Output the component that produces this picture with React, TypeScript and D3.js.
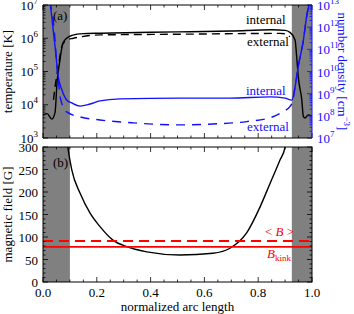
import React from 'react';
import * as d3 from 'd3';

// arc length (normalized) vs value
const tempInternal: [number, number][] = [
  [0, 4.9e3], [0.015, 5.4e3], [0.033, 3.7e3], [0.045, 6e3], [0.052, 4.5e4],
  [0.063, 2.2e5], [0.074, 7.2e5], [0.089, 1.02e6], [0.108, 1.22e6], [0.149, 1.38e6],
  [0.212, 1.42e6], [0.5, 1.55e6], [0.7, 1.65e6], [0.85, 1.8e6], [0.9, 1.72e6],
  [0.918, 1.5e6], [0.937, 8.9e5], [0.943, 2.8e5], [0.949, 6.9e4], [0.962, 1.4e4],
  [0.968, 4.4e3], [0.974, 4e3], [0.986, 4.9e3], [0.999, 4.6e3],
];
const tempExternal: [number, number][] = [
  [0.039, 1.4e4], [0.045, 3.5e4], [0.057, 1.4e5], [0.07, 5.6e5], [0.088, 8.9e5],
  [0.113, 1.0e6], [0.212, 1.26e6], [0.5, 1.32e6], [0.88, 1.4e6], [0.905, 1.35e6],
  [0.918, 1.1e6],
];
const densInternal: [number, number][] = [
  [0.026, 1.5e13], [0.045, 1.3e11], [0.057, 5.6e9], [0.07, 1.5e9], [0.088, 5.2e8],
  [0.107, 3.8e8], [0.138, 2.75e8], [0.175, 3.4e8], [0.212, 4.7e8], [0.286, 5.8e8],
  [0.509, 6.3e8], [0.695, 6.3e8], [0.844, 7.2e8], [0.9, 6.3e8], [0.925, 5.1e8],
  [0.937, 2.0e9], [0.949, 1.7e10], [0.968, 2.6e11], [0.98, 3e12], [0.992, 1.5e13],
];
const densExternal: [number, number][] = [
  [0.024, 1.5e13], [0.045, 2.5e11], [0.05, 3e10], [0.058, 3e9], [0.065, 6e8],
  [0.088, 1.5e8], [0.138, 8.9e7], [0.212, 6.5e7], [0.335, 4.8e7], [0.509, 3.9e7],
  [0.632, 4.3e7], [0.757, 5.5e7], [0.855, 9.1e7], [0.892, 1.55e8], [0.918, 2.6e8],
  [0.929, 5.1e8], [0.937, 2.0e9], [0.949, 1.7e10], [0.968, 2.6e11], [0.98, 3e12],
  [0.992, 1.5e13],
];
const fieldB: [number, number][] = [
  [0.088, 320], [0.094, 293], [0.107, 249], [0.138, 197], [0.175, 153], [0.212, 123],
  [0.26, 93], [0.311, 78.5], [0.386, 67], [0.509, 60], [0.632, 64], [0.695, 75],
  [0.757, 109], [0.807, 167], [0.844, 219], [0.881, 271], [0.9, 300], [0.905, 320],
];
const meanB = 91;
const kinkB = 78;
const chromoLeft = [0, 0.1];
const chromoRight = [0.925, 1];

const xTicks = [0, 0.2, 0.4, 0.6, 0.8, 1.0];
const tempDecades = [3, 4, 5, 6, 7];
const densDecades = [7, 8, 9, 10, 11, 12, 13];
const bTicks = [0, 50, 100, 150, 200, 250, 300];

const BLUE = '#1010ff';
const RED = '#ff0000';
const FONT = "'Liberation Serif', 'Times New Roman', serif";

const L = 43, R = 312, aTop = 5, aBot = 138, bTop = 147, bBot = 282;

export default function App() {
  const x = d3.scaleLinear().domain([0, 1]).range([L, R]);
  const yT = d3.scaleLog().domain([1e3, 1e7]).range([aBot, aTop]);
  const yN = d3.scaleLog().domain([1e7, 1e13]).range([aBot, aTop]);
  const yB = d3.scaleLinear().domain([0, 300]).range([bBot, bTop]);

  const lineT = d3.line<[number, number]>().x(d => x(d[0])).y(d => yT(d[1])).curve(d3.curveMonotoneX);
  const lineN = d3.line<[number, number]>().x(d => x(d[0])).y(d => yN(d[1])).curve(d3.curveMonotoneX);
  const lineB = d3.line<[number, number]>().x(d => x(d[0])).y(d => yB(d[1])).curve(d3.curveMonotoneX);

  const minorX = d3.range(0, 1.0001, 0.05);
  const logMinor = (decs: number[]) => {
    const out: number[] = [];
    for (let i = 0; i < decs.length - 1; i++)
      for (let k = 2; k <= 9; k++) out.push(k * Math.pow(10, decs[i]));
    return out;
  };

  const ticks: JSX.Element[] = [];
  let key = 0;
  const tk = (x1: number, y1: number, x2: number, y2: number, c = '#000') =>
    ticks.push(<line key={key++} x1={x1} y1={y1} x2={x2} y2={y2} stroke={c} strokeWidth={0.8} />);

  // x ticks on both panels, top and bottom
  for (const [t, b] of [[aTop, aBot], [bTop, bBot]]) {
    minorX.forEach(v => {
      const major = xTicks.some(m => Math.abs(m - v) < 1e-6);
      const len = major ? 5 : 2.5;
      tk(x(v), b, x(v), b - len);
      tk(x(v), t, x(v), t + len);
    });
  }
  // temperature axis
  tempDecades.forEach(d => tk(L, yT(Math.pow(10, d)), L + 5, yT(Math.pow(10, d))));
  logMinor(tempDecades).forEach(v => tk(L, yT(v), L + 2.5, yT(v)));
  // density axis
  densDecades.forEach(d => tk(R, yN(Math.pow(10, d)), R - 5, yN(Math.pow(10, d)), BLUE));
  logMinor(densDecades).forEach(v => tk(R, yN(v), R - 2.5, yN(v), BLUE));
  // field axis
  d3.range(0, 301, 10).forEach(v => {
    const len = v % 50 === 0 ? 5 : 2.5;
    tk(L, yB(v), L + len, yB(v));
    tk(R, yB(v), R - len, yB(v));
  });

  const gray = (top: number, bot: number) => (
    <g fill="#808080">
      <rect x={x(chromoLeft[0])} y={top} width={x(chromoLeft[1]) - x(chromoLeft[0])} height={bot - top} />
      <rect x={x(chromoRight[0])} y={top} width={x(chromoRight[1]) - x(chromoRight[0])} height={bot - top} />
    </g>
  );

  return (
    <svg width={354} height={314} style={{ position: 'absolute', left: 0, top: 0 }} fontFamily={FONT}>
      <rect width={354} height={314} fill="#fff" />
      <defs>
        <clipPath id="clipA"><rect x={L} y={aTop} width={R - L} height={aBot - aTop} /></clipPath>
        <clipPath id="clipB"><rect x={L} y={bTop} width={R - L} height={bBot - bTop} /></clipPath>
      </defs>

      {gray(aTop, aBot)}
      {gray(bTop, bBot)}

      <g clipPath="url(#clipA)" fill="none" strokeWidth={1.4}>
        <path d={lineT(tempInternal) || ''} stroke="#000" />
        <path d={lineT(tempExternal) || ''} stroke="#000" strokeDasharray="8,5" />
        <path d={lineN(densInternal) || ''} stroke={BLUE} />
        <path d={lineN(densExternal) || ''} stroke={BLUE} strokeDasharray="9,7" />
      </g>

      <g clipPath="url(#clipB)" fill="none">
        <path d={lineB(fieldB) || ''} stroke="#000" strokeWidth={1.4} />
        <line x1={L} x2={R} y1={yB(meanB)} y2={yB(meanB)} stroke={RED} strokeWidth={2} strokeDasharray="10,6" />
        <line x1={L} x2={R} y1={yB(kinkB)} y2={yB(kinkB)} stroke={RED} strokeWidth={1.6} />
      </g>

      {ticks}

      <g fill="none" strokeWidth={1}>
        <path d={`M${R},${aTop}H${L}V${aBot}H${R}`} stroke="#000" />
        <line x1={R} x2={R} y1={aTop} y2={aBot} stroke={BLUE} />
        <rect x={L} y={bTop} width={R - L} height={bBot - bTop} stroke="#000" />
      </g>

      <g fontSize={13}>
        <text x={53} y={20}>(a)</text>
        <text x={53} y={167}>(b)</text>

        <text x={246} y={24}>internal</text>
        <text x={247} y={46}>external</text>
        <text x={246} y={95} fill={BLUE}>internal</text>
        <text x={247} y={131} fill={BLUE}>external</text>

        {tempDecades.map(d => (
          <text key={d} x={38} y={yT(Math.pow(10, d)) + 4.5} textAnchor="end">
            10<tspan fontSize={9} dy={-6}>{d}</tspan>
          </text>
        ))}
        {densDecades.map(d => (
          <text key={d} x={317} y={yN(Math.pow(10, d)) + 5} fill={BLUE}>
            10<tspan fontSize={9} dy={-6}>{d}</tspan>
          </text>
        ))}
        {bTicks.map(v => (
          <text key={v} x={38} y={yB(v) + 5} textAnchor="end">{v}</text>
        ))}
        {xTicks.map(v => (
          <text key={v} x={x(v)} y={297} textAnchor="middle">{v.toFixed(1)}</text>
        ))}

        <text transform={`translate(12,${(aTop + aBot) / 2}) rotate(-90)`} textAnchor="middle">temperature [K]</text>
        <text transform={`translate(12,${(bTop + bBot) / 2}) rotate(-90)`} textAnchor="middle">magnetic field [G]</text>
        <text transform={`translate(338,${(aTop + aBot) / 2}) rotate(90)`} textAnchor="middle" fill={BLUE}>
          number density [cm<tspan fontSize={9} dy={-6}>−3</tspan><tspan dy={6}>]</tspan>
        </text>
        <text x={(L + R) / 2} y={311} textAnchor="middle">normalized arc length</text>

        <text x={265} y={236} fill={RED}>
          {'< '}<tspan fontStyle="italic">B</tspan>{' >'}
        </text>
        <text x={267} y={258} fill={RED}>
          <tspan fontStyle="italic">B</tspan><tspan fontSize={9} dy={3}>kink</tspan>
        </text>
      </g>
    </svg>
  );
}
